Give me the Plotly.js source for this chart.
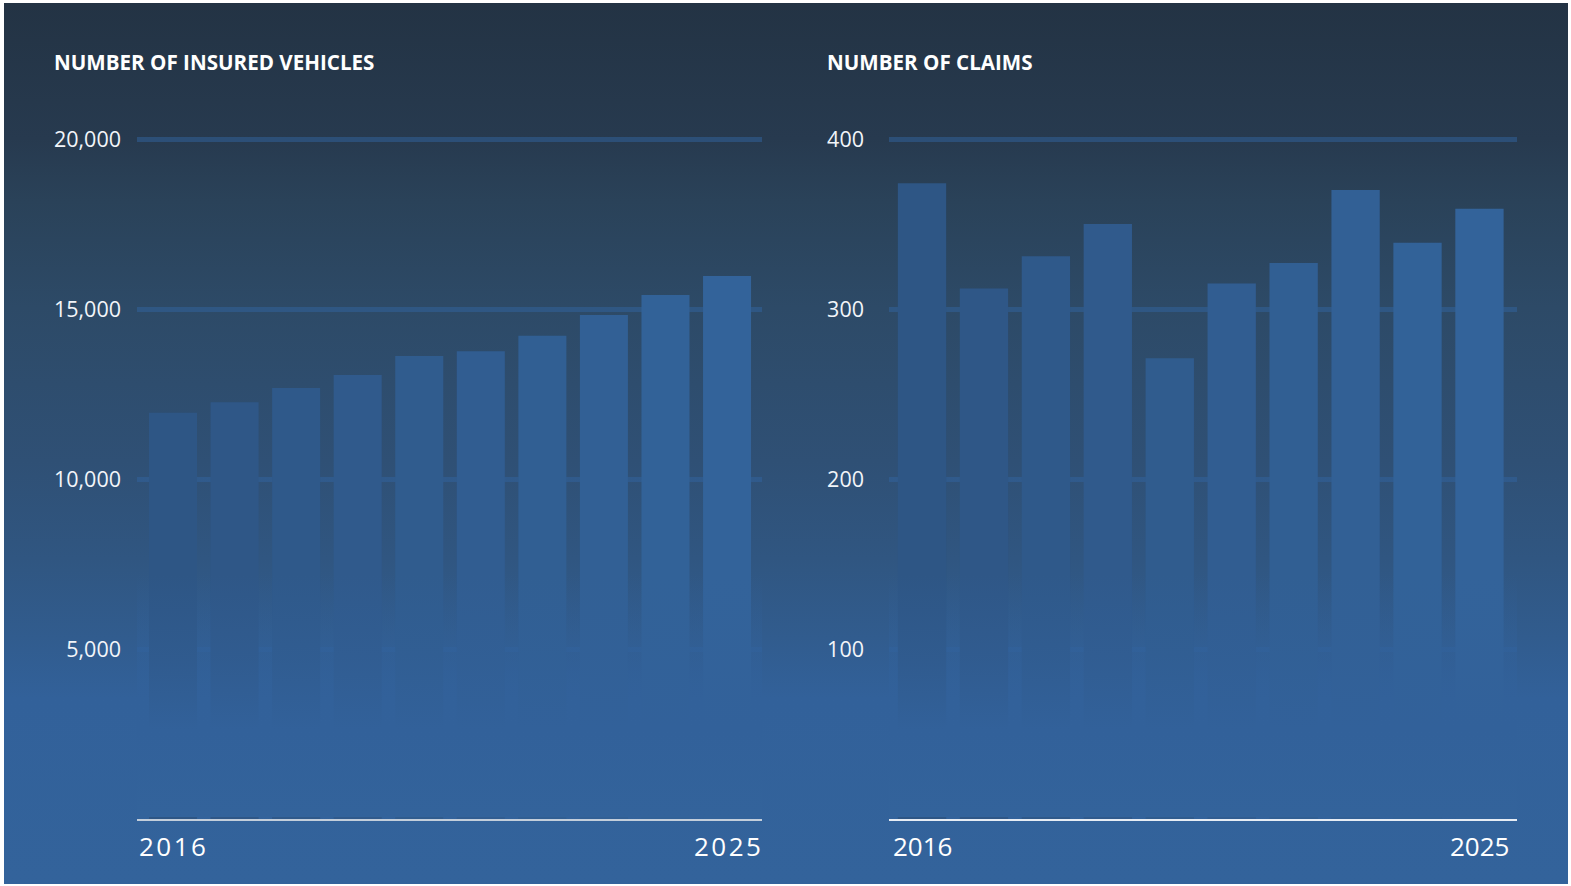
<!DOCTYPE html>
<html>
<head>
<meta charset="utf-8">
<script src="https://cdn.plot.ly/plotly-3.0.1.min.js"></script>
<style>
  html, body { margin: 0; padding: 0; background: #ffffff; }
  #bg {
    position: absolute; left: 4px; top: 3px; width: 1564px; height: 881px;
    background: linear-gradient(to bottom,
      #233344 0%, #273a4f 15.4%, #2a4259 22.5%, #2d4a67 34.5%,
      #2f5075 52%, #305681 63%, #315c8e 72%, #32619a 79%, #33639b 100%);
  }
  #chart { position: absolute; left: 0; top: 0; width: 1571px; height: 886px; }
  .annotation[data-index="2"] text, .annotation[data-index="3"] text { letter-spacing: 2.5px; }
</style>
</head>
<body>
<div id="bg"></div>
<div id="chart"></div>
<script>
// ---- data ----
var years = ['2016', '2017', '2018', '2019', '2020', '2021', '2022', '2023', '2024', '2025'];
var insuredVehicles = [11950, 12260, 12680, 13060, 13620, 13760, 14210, 14820, 15410, 15970];
var claims = [374, 312, 331, 350, 271, 315, 327, 370, 339, 359];
var vehicleTicks = [5000, 10000, 15000, 20000];
var vehicleTickText = ['5,000', '10,000', '15,000', '20,000'];
var claimTicks = [100, 200, 300, 400];
var claimTickText = ['100', '200', '300', '400'];
var titles = ['NUMBER OF INSURED VEHICLES', 'NUMBER OF CLAIMS'];

// ---- styling helpers ----
function barColors(n) {
  var c0 = [46, 86, 133], c1 = [51, 99, 154], out = [];
  for (var i = 0; i < n; i++) {
    var t = n > 1 ? i / (n - 1) : 0;
    out.push('rgb(' + c0.map(function (v, k) { return Math.round(v + (c1[k] - v) * t); }).join(',') + ')');
  }
  return out;
}
var W = 1571, H = 886;
function px(x) { return x / W; }
function py(y) { return 1 - y / H; }

var fadeTop = 575, fadeBottom = 817;
var fadeSvg = "<svg xmlns='http://www.w3.org/2000/svg' width='10' height='100' viewBox='0 0 10 100' preserveAspectRatio='none'>" +
  "<defs><linearGradient id='g' x1='0' y1='0' x2='0' y2='1'>" +
  "<stop offset='0' stop-color='#32619a' stop-opacity='0'/>" +
  "<stop offset='0.35' stop-color='#32619a' stop-opacity='0.45'/>" +
  "<stop offset='0.64' stop-color='#32619a' stop-opacity='1'/>" +
  "<stop offset='1' stop-color='#33639b' stop-opacity='1'/>" +
  "</linearGradient></defs><rect width='10' height='100' fill='url(#g)'/></svg>";
var fadeSrc = 'data:image/svg+xml;charset=utf-8,' + encodeURIComponent(fadeSvg);

var traces = [
  { type: 'bar', x: years, y: insuredVehicles, xaxis: 'x', yaxis: 'y',
    marker: { color: barColors(years.length), line: { width: 0 } }, hoverinfo: 'x+y' },
  { type: 'bar', x: years, y: claims, xaxis: 'x2', yaxis: 'y2',
    marker: { color: barColors(years.length), line: { width: 0 } }, hoverinfo: 'x+y' }
];

var tickFont = { family: 'Open Sans, sans-serif', size: 21.5, color: '#f2f5f9' };
var yearFont = { family: 'Open Sans, sans-serif', size: 26, color: '#ffffff' };
var titleFont = { family: 'Open Sans, sans-serif', size: 20.6, color: '#ffffff', weight: 'bold' };

// zero at y=819px, top tick at y=139px; range extended slightly so top gridline is drawn
var extra = 0.005;
var topPx = 139 - 680 * extra;
var yDomain = [py(819), py(topPx)];
var gridColor = 'rgba(50,100,160,0.5)';

var layout = {
  width: W, height: H,
  margin: { l: 0, r: 0, t: 0, b: 0, pad: 0 },
  paper_bgcolor: 'rgba(0,0,0,0)',
  plot_bgcolor: 'rgba(0,0,0,0)',
  showlegend: false,
  bargap: 0.22,
  xaxis: {
    domain: [px(137), px(762)], anchor: 'y', type: 'category',
    range: [-0.585, 9.568], showticklabels: false, ticks: '',
    showgrid: false, zeroline: false, showline: true,
    linecolor: '#c3cedb', linewidth: 2, fixedrange: true
  },
  yaxis: {
    domain: yDomain, anchor: 'x', range: [0, 20000 * (1 + extra)],
    tickmode: 'array', tickvals: vehicleTicks, ticktext: vehicleTickText,
    tickfont: tickFont, ticks: '', ticklabelstandoff: 15,
    showgrid: true, gridcolor: gridColor, gridwidth: 5,
    zeroline: false, showline: false, fixedrange: true
  },
  xaxis2: {
    domain: [px(889), px(1517)], anchor: 'y2', type: 'category',
    range: [-0.533, 9.606], showticklabels: false, ticks: '',
    showgrid: false, zeroline: false, showline: true,
    linecolor: '#e6ecf4', linewidth: 2, fixedrange: true
  },
  yaxis2: {
    domain: yDomain, anchor: 'x2', range: [0, 400 * (1 + extra)],
    tickmode: 'array', tickvals: claimTicks, ticktext: claimTickText,
    tickfont: tickFont, ticks: '', ticklabelstandoff: 24,
    showgrid: true, gridcolor: gridColor, gridwidth: 5,
    zeroline: false, showline: false, fixedrange: true
  },
  images: [
    { source: fadeSrc, xref: 'x domain', yref: 'paper', x: 0, y: py(fadeTop),
      sizex: 1, sizey: (fadeBottom - fadeTop) / H, sizing: 'stretch', xanchor: 'left', yanchor: 'top', layer: 'above' },
    { source: fadeSrc, xref: 'x2 domain', yref: 'paper', x: 0, y: py(fadeTop),
      sizex: 1, sizey: (fadeBottom - fadeTop) / H, sizing: 'stretch', xanchor: 'left', yanchor: 'top', layer: 'above' }
  ],
  annotations: [
    { text: titles[0], xref: 'paper', yref: 'paper', x: px(52), y: py(62), xanchor: 'left', yanchor: 'middle',
      showarrow: false, font: titleFont, align: 'left' },
    { text: titles[1], xref: 'paper', yref: 'paper', x: px(825), y: py(62), xanchor: 'left', yanchor: 'middle',
      showarrow: false, font: titleFont, align: 'left' },
    { text: years[0], xref: 'x domain', yref: 'paper', x: 0, y: py(846), xanchor: 'left', yanchor: 'middle',
      showarrow: false, font: yearFont, align: 'left', xshift: 0 },
    { text: years[years.length - 1], xref: 'x domain', yref: 'paper', x: 1, y: py(846), xanchor: 'right', yanchor: 'middle',
      showarrow: false, font: yearFont, align: 'right', xshift: 3 },
    { text: years[0], xref: 'x2 domain', yref: 'paper', x: 0, y: py(846), xanchor: 'left', yanchor: 'middle',
      showarrow: false, font: yearFont, align: 'left', xshift: 2 },
    { text: years[years.length - 1], xref: 'x2 domain', yref: 'paper', x: 1, y: py(846), xanchor: 'right', yanchor: 'middle',
      showarrow: false, font: yearFont, align: 'right', xshift: -6 }
  ]
};

Plotly.newPlot('chart', traces, layout, { displayModeBar: false, staticPlot: true });
</script>
</body>
</html>
